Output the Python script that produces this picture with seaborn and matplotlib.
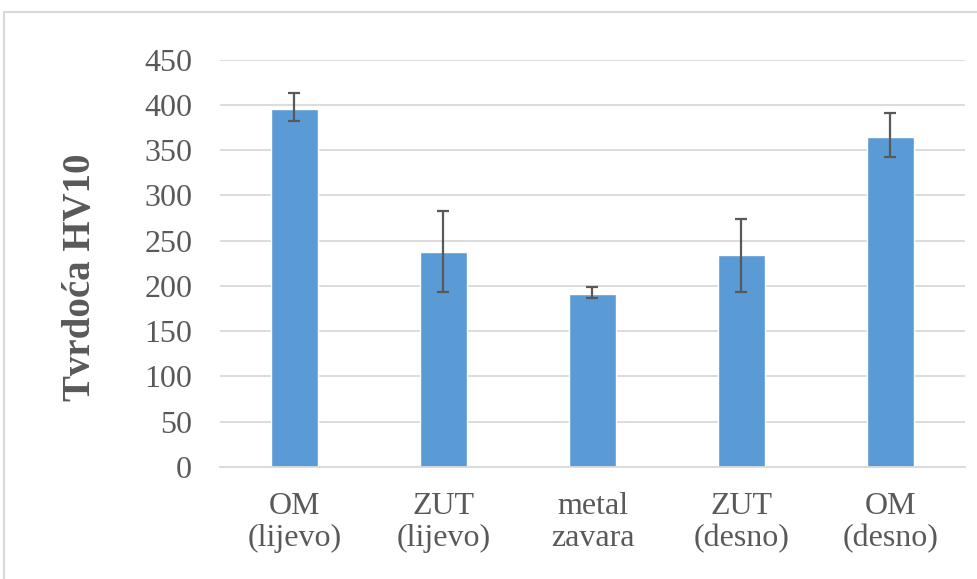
import matplotlib
matplotlib.use("Agg")
import matplotlib.pyplot as plt
from matplotlib.patches import Rectangle
import seaborn as sns
import pandas as pd
import numpy as np

categories = ["OM\n(lijevo)", "ZUT\n(lijevo)", "metal\nzavara", "ZUT\n(desno)", "OM\n(desno)"]
hardness = [395.6, 237.1, 191.0, 233.8, 364.1]
err_lower = [13.2, 43.9, 4.0, 40.9, 21.5]
err_upper = [17.1, 45.6, 7.4, 40.1, 27.1]
yticks = [0, 50, 100, 150, 200, 250, 300, 350, 400, 450]

sns.set_theme(style="white")
plt.rcParams["font.family"] = ["Liberation Serif", "DejaVu Serif"]

df = pd.DataFrame({"cat": categories, "val": hardness})

fig = plt.figure(figsize=(9.78, 5.79), dpi=100)
ax = fig.add_axes([220/978, 1-467/579, 745/978, (467-59.7)/579])

sns.barplot(data=df, x="cat", y="val", color="#5b9bd5", width=0.32,
            saturation=1, errorbar=None, ax=ax, zorder=2)
ax.errorbar(x=np.arange(len(categories)), y=hardness,
            yerr=[err_lower, err_upper], fmt="none", ecolor="#595959",
            elinewidth=1.6, capsize=4.5, capthick=1.6, zorder=3)

ax.set_ylim(0, 450)
ax.set_yticks(yticks)
ax.set_xlim(-0.5, len(categories)-0.5)
ax.yaxis.grid(True, color="#d9d9d9", linewidth=1.3, zorder=0)
ax.set_axisbelow(True)
for s in ["top", "right", "left"]:
    ax.spines[s].set_visible(False)
ax.spines["bottom"].set_color("#d9d9d9")
ax.spines["bottom"].set_linewidth(1.3)

ax.tick_params(axis="y", length=0, pad=20, labelsize=23, labelcolor="#595959")
ax.tick_params(axis="x", length=0, pad=18, labelsize=23, labelcolor="#595959")
for lbl in ax.get_xticklabels():
    lbl.set_linespacing(1.15)
ax.set_xlabel("")
ax.set_ylabel("Tvrdoća HV10", fontsize=28, fontweight="bold", color="#595959")
ax.yaxis.set_label_coords(-0.163, 0.465)

fig.patches.append(Rectangle((4/978, -0.2), 1.2, 1.2 - 12/579, transform=fig.transFigure,
                             fill=False, edgecolor="#d9d9d9", linewidth=1.5, clip_on=False))

fig.savefig("out.png", dpi=100, facecolor="white")
